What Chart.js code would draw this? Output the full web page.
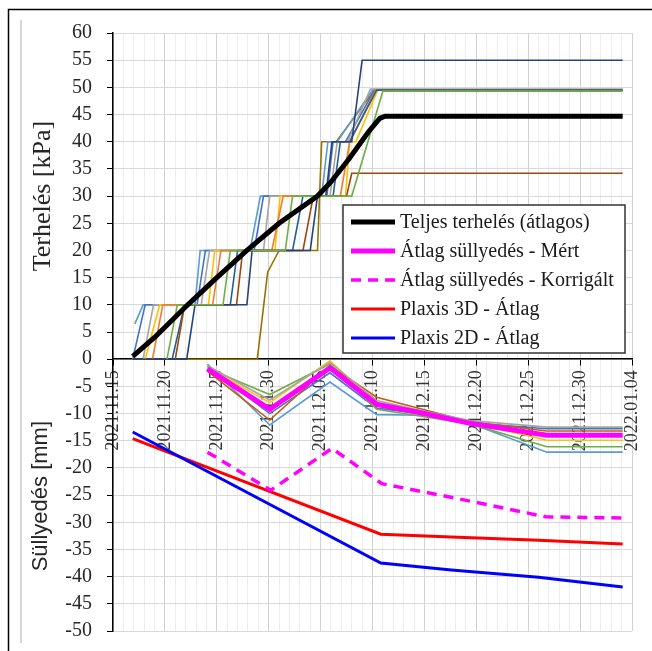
<!DOCTYPE html>
<html>
<head>
<meta charset="utf-8">
<script src="https://cdn.jsdelivr.net/npm/chart.js@4.4.0/dist/chart.umd.min.js"></script>
<style>
  html, body { margin: 0; padding: 0; background: #fff; }
</style>
</head>
<body>
<canvas id="chart" width="652" height="651"></canvas>
<script>
// x values are days counted from 2021.11.15
const dateLabels = ["2021.11.15", "2021.11.20", "2021.11.25", "2021.11.30", "2021.12.05", "2021.12.10",
  "2021.12.15", "2021.12.20", "2021.12.25", "2021.12.30", "2022.01.04"];

// average load (black)
const avgLoadDays = [1.9, 4.0, 7.2, 10.0, 12.9, 16.0, 19.7, 21.0, 22.8, 24.6, 25.7, 26.2, 49.1];
const avgLoad = [0.5, 4.0, 10.0, 15.0, 20.0, 25.0, 30.0, 32.6, 37.0, 41.8, 44.3, 44.7, 44.7];

// load steps of the single cells
const loadGnDays = [5.2, 6.2, 10.6, 11.3, 16.6, 17.3, 23.0, 26.0, 49.1];
const loadGn = [0, 10, 10, 20, 20, 30, 30, 49.3, 49.3];
const loadNvDays = [1.9, 7.1, 7.9, 12.9, 13.4, 19.0, 19.7, 20.5, 21.1, 23.0, 24.0, 49.1];
const loadNv = [0, 0, 10, 10, 20, 20, 30, 30, 40, 40, 55, 55];
const loadBrDays = [6.0, 6.9, 11.9, 12.5, 18.3, 19.3, 22.5, 23.0, 49.1];
const loadBr = [0, 10, 10, 20, 20, 30, 30, 34.2, 34.2];
const loadB2Days = [5.7, 6.9, 11.3, 12.0, 17.3, 18.3, 21.2, 21.9, 22.8, 25.4, 49.1];
const loadB2 = [0, 10, 10, 20, 20, 30, 30, 40, 40, 49.5, 49.5];
const loadOrDays = [3.8, 4.8, 9.6, 10.4, 15.3, 16.4, 21.9, 22.8, 25.3, 49.1];
const loadOr = [0, 10, 10, 20, 20, 30, 30, 40, 49.5, 49.5];
const loadYeDays = [3.1, 4.5, 9.2, 9.8, 15.6, 16.1, 22.4, 22.8, 23.4, 25.5, 49.1];
const loadYe = [0, 10, 10, 20, 20, 30, 30, 40, 40, 49.5, 49.5];
const loadGrDays = [2.9, 3.9, 8.5, 9.3, 14.5, 15.1, 20.9, 21.6, 22.6, 24.8, 49.1];
const loadGr = [0, 10, 10, 20, 20, 30, 30, 40, 40, 49.7, 49.7];
const loadBlDays = [1.9, 3.1, 8.1, 8.9, 13.6, 14.5, 20.6, 21.2, 22.4, 25.2, 49.1];
const loadBl = [0, 10, 10, 20, 20, 30, 30, 40, 40, 49.5, 49.5];
const loadLbDays = [2.1, 2.9, 7.9, 8.4, 13.2, 14.2, 20.1, 20.7, 21.6, 25.0, 49.1];
const loadLb = [6.5, 10, 10, 20, 20, 30, 30, 40, 40, 49.5, 49.5];
const loadGdDays = [1.9, 13.9, 14.9, 16.0, 19.7, 20.1, 21.5, 25.2, 49.1];
const loadGd = [0, 0, 16, 20, 20, 40, 40, 49.5, 49.5];

// measured settlements
const settleDays = [9.1, 15.1, 20.9, 25.4, 30.0, 34.4, 41.8, 49.1];
const settleAvg = [-1.8, -9.2, -1.6, -8.3, -10.0, -11.8, -14.0, -14.0];
const settleGr = [-1.2, -7.5, -0.6, -7.6, -9.6, -11.3, -12.5, -12.5];
const settleOr = [-2.2, -11.2, -1.2, -7.0, -9.3, -11.5, -13.2, -13.2];
const settleYe = [-1.5, -8.0, -0.3, -8.3, -10.0, -11.6, -14.9, -14.9];
const settleGn = [-1.7, -6.5, -0.9, -9.2, -10.6, -11.9, -16.1, -16.1];
const settleLb = [-0.9, -12.1, -4.2, -10.2, -10.3, -11.8, -17.1, -17.1];
const settleBl = [-1.3, -10.0, -2.5, -9.0, -10.1, -11.7, -12.8, -12.8];

// corrected settlement (dashed)
const corrDays = [9.1, 15.2, 21.1, 25.9, 33.1, 41.7, 49.1];
const corrSettle = [-17.1, -24.1, -16.4, -22.9, -25.6, -29.0, -29.2];

// Plaxis results
const plaxisDays = [1.9, 25.8, 32.6, 41.0, 49.1];
const plaxis3D = [-14.6, -32.2, -32.7, -33.3, -34.0];
const plaxis2D = [-13.4, -37.5, -38.8, -40.1, -41.9];

function pts(xs, ys) {
  return xs.map((x, i) => ({ x: x, y: ys[i] }));
}

function thin(days, vals, color, order) {
  return { data: pts(days, vals), borderColor: color, borderWidth: 1.6, order: order };
}

const datasets = [
  { label: "Teljes terhelés (átlagos)", data: pts(avgLoadDays, avgLoad), borderColor: "#000000", borderWidth: 5, inLegend: true, order: 0 },
  { label: "Átlag süllyedés - Mért", data: pts(settleDays, settleAvg), borderColor: "#ff00ff", borderWidth: 5, inLegend: true, order: 1 },
  { label: "Átlag süllyedés - Korrigált", data: pts(corrDays, corrSettle), borderColor: "#ff00ff", borderWidth: 3.5, borderDash: [10, 7], inLegend: true, order: 2 },
  { label: "Plaxis 3D - Átlag", data: pts(plaxisDays, plaxis3D), borderColor: "#ff0000", borderWidth: 3, inLegend: true, order: 4 },
  { label: "Plaxis 2D - Átlag", data: pts(plaxisDays, plaxis2D), borderColor: "#0000ff", borderWidth: 3, inLegend: true, order: 3 },

  thin(loadGnDays, loadGn, "#70ad47", 10),
  thin(loadNvDays, loadNv, "#264478", 11),
  thin(loadBrDays, loadBr, "#9e480e", 12),
  thin(loadB2Days, loadB2, "#255e91", 13),
  thin(loadOrDays, loadOr, "#ed7d31", 14),
  thin(loadYeDays, loadYe, "#ffc000", 15),
  thin(loadGrDays, loadGr, "#a5a5a5", 16),
  thin(loadBlDays, loadBl, "#4472c4", 17),
  thin(loadLbDays, loadLb, "#5b9bd5", 18),
  thin(loadGdDays, loadGd, "#997300", 19),

  thin(settleDays, settleGr, "#a5a5a5", 20),
  thin(settleDays, settleOr, "#c55a11", 21),
  thin(settleDays, settleYe, "#ffc000", 22),
  thin(settleDays, settleGn, "#70ad47", 23),
  thin(settleDays, settleBl, "#4472c4", 24),
  thin(settleDays, settleLb, "#5b9bd5", 25)
];

// frame, axis titles and the boxed legend
const decor = {
  id: "decor",
  beforeDraw(chart) {
    const ctx = chart.ctx;
    ctx.save();
    ctx.fillStyle = "#fff";
    ctx.fillRect(0, 0, chart.width, chart.height);
    ctx.strokeStyle = "#000";
    ctx.lineWidth = 1.5;
    ctx.beginPath();
    ctx.moveTo(8.5, chart.height);
    ctx.lineTo(8.5, 9.5);
    ctx.lineTo(chart.width, 9.5);
    ctx.stroke();
    ctx.strokeStyle = "#c8c8c8";
    ctx.beginPath();
    ctx.moveTo(21, 20);
    ctx.lineTo(21, 643);
    ctx.stroke();
    ctx.restore();
  },
  afterDraw(chart) {
    const ctx = chart.ctx;
    const y = chart.scales.y;
    ctx.save();
    ctx.fillStyle = "#262626";
    ctx.textAlign = "center";
    ctx.textBaseline = "middle";
    ctx.translate(43, y.getPixelForValue(30));
    ctx.rotate(-Math.PI / 2);
    ctx.font = "26px 'Liberation Serif'";
    ctx.fillText("Terhelés [kPa]", 0, 0);
    ctx.restore();

    ctx.save();
    ctx.fillStyle = "#262626";
    ctx.textAlign = "center";
    ctx.textBaseline = "middle";
    ctx.translate(41, y.getPixelForValue(-25.2));
    ctx.rotate(-Math.PI / 2);
    ctx.font = "22px 'Liberation Sans'";
    ctx.fillText("Süllyedés [mm]", 0, 0);
    ctx.restore();

    // legend box
    const area = chart.chartArea;
    const bx = area.left + 230, by = y.getPixelForValue(60) + 172, bw = 282, bh = 148;
    ctx.save();
    ctx.fillStyle = "#fff";
    ctx.fillRect(bx, by, bw, bh);
    ctx.strokeStyle = "#333";
    ctx.lineWidth = 1.5;
    ctx.strokeRect(bx, by, bw, bh);
    ctx.font = "20px 'Liberation Serif'";
    ctx.textBaseline = "middle";
    ctx.textAlign = "left";
    chart.data.datasets.filter(d => d.inLegend).forEach((d, i) => {
      const ly = by + 17 + i * 29;
      ctx.strokeStyle = d.borderColor;
      ctx.lineWidth = d.borderWidth;
      ctx.setLineDash(d.borderDash || []);
      ctx.beginPath();
      ctx.moveTo(bx + 8, ly);
      ctx.lineTo(bx + 52, ly);
      ctx.stroke();
      ctx.setLineDash([]);
      ctx.fillStyle = "#1a1a1a";
      ctx.fillText(d.label, bx + 57, ly + 1);
    });
    ctx.restore();
  }
};

const tickFont = { family: "'Liberation Serif'", size: 20 };

function noPad(s) {
  s.paddingLeft = 0;
  s.paddingRight = 0;
  s.paddingTop = 0;
  s.paddingBottom = 0;
}

new Chart(document.getElementById("chart"), {
  type: "line",
  data: { datasets: datasets },
  options: {
    responsive: false,
    animation: false,
    layout: { padding: { top: 33, right: 20, bottom: 20, left: 0 } },
    elements: { point: { radius: 0 }, line: { tension: 0, fill: false } },
    plugins: { legend: { display: false }, tooltip: { enabled: false } },
    scales: {
      xMinor: {
        type: "linear",
        position: "top",
        min: 0,
        max: 50,
        ticks: { display: false, stepSize: 1 },
        grid: { color: "#ededed", drawTicks: false },
        border: { display: false },
        afterFit: noPad
      },
      x: {
        type: "linear",
        position: { y: 0 },
        min: 0,
        max: 50,
        ticks: {
          stepSize: 5,
          minRotation: 90,
          maxRotation: 90,
          padding: 5,
          color: "#333",
          font: { family: "'Liberation Serif'", size: 18 },
          callback: (v) => dateLabels[Math.round(v / 5)]
        },
        grid: { color: "#d2d2d2", tickColor: "#000", tickLength: 6 },
        border: { color: "#000", width: 1.5 },
        afterFit: noPad
      },
      y: {
        min: -50,
        max: 60,
        ticks: { stepSize: 5, padding: 15, color: "#262626", font: tickFont, callback: (v) => String(v) },
        grid: { color: "#d9d9d9", tickColor: "#000", tickLength: 6 },
        border: { color: "#000", width: 1.5 },
        afterFit: (s) => { noPad(s); s.width = 113; }
      }
    }
  },
  plugins: [decor]
});
</script>
</body>
</html>
